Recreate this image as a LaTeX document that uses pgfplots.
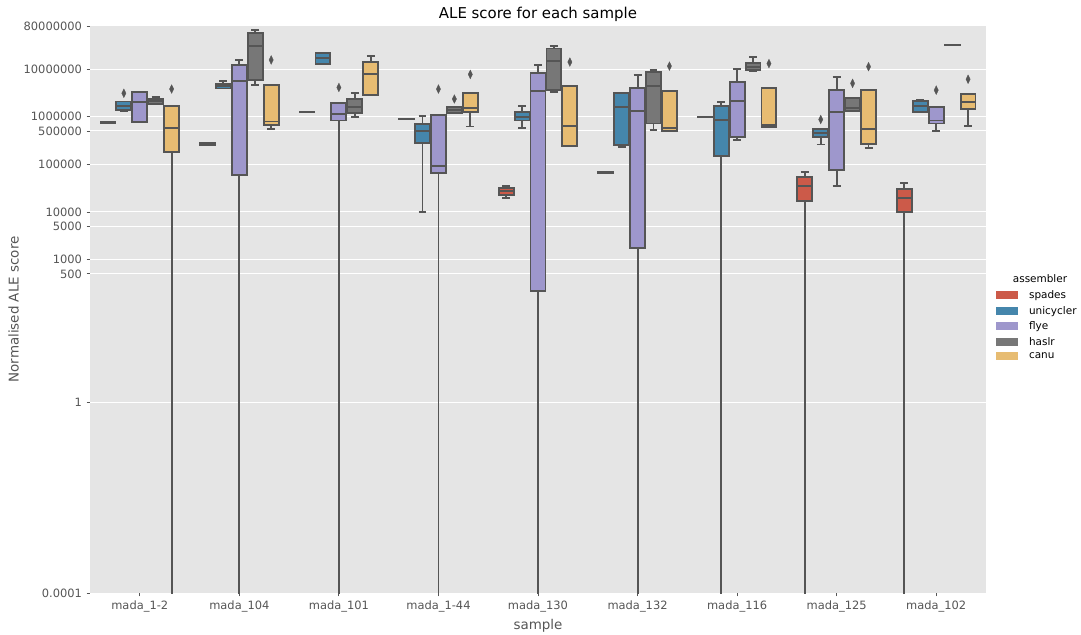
\documentclass[border=0pt]{standalone}
\usepackage{pgfplots}
\pgfplotsset{compat=1.18}
\usepackage{fontspec}
\setmainfont{DejaVu Sans}
\definecolor{cspades}{RGB}{204,90,73}
\definecolor{cuni}{RGB}{69,134,172}
\definecolor{cflye}{RGB}{158,151,204}
\definecolor{chaslr}{RGB}{119,119,119}
\definecolor{ccanu}{RGB}{231,188,114}
\definecolor{edge}{RGB}{85,85,85}
\definecolor{bg}{RGB}{229,229,229}
\definecolor{lab}{RGB}{85,85,85}
\pgfplotsset{
  wsk/.style={forget plot, draw=edge, solid, line width=1.9pt, mark=none},
  bxs/.style={forget plot, draw=edge, solid, line width=1.9pt, mark=none},
  outs/.style={forget plot, only marks, mark=diamond*, mark size=4.4,
    mark options={fill=edge, draw=edge, xscale=0.65, solid, line width=0.3pt}},
}
% box: colour, position, lower whisker, lower quartile, median, upper quartile, upper whisker
\newcommand{\bx}[7]{%
  \pgfmathsetmacro{\bxL}{#2-0.075}%
  \pgfmathsetmacro{\bxR}{#2+0.075}%
  \pgfmathsetmacro{\bcL}{#2-0.04}%
  \pgfmathsetmacro{\bcR}{#2+0.04}%
  \edef\bxdo{%
    \noexpand\addplot[wsk] coordinates {(#2,#3) (#2,#4)};
    \noexpand\addplot[wsk] coordinates {(#2,#6) (#2,#7)};
    \noexpand\addplot[wsk] coordinates {(\bcL,#3) (\bcR,#3)};
    \noexpand\addplot[wsk] coordinates {(\bcL,#7) (\bcR,#7)};
    \noexpand\addplot[bxs, fill=#1] coordinates {(\bxL,#4) (\bxR,#4) (\bxR,#6) (\bxL,#6)} --cycle;
    \noexpand\addplot[wsk] coordinates {(\bxL,#5) (\bxR,#5)};
  }\bxdo}
% outlier: position, value
\newcommand{\outl}[2]{\addplot[outs] coordinates {(#1,#2)};}
\begin{document}
\begin{tikzpicture}
\useasboundingbox (0bp,0bp) rectangle (1081bp,635bp);
\begin{axis}[
  at={(90bp,42bp)}, anchor=south west,
  scale only axis, width=896bp, height=567bp,
  ymode=log, ymin=1e-4, ymax=8e7,
  xmin=-0.5, xmax=8.5,
  xtick={0,1,2,3,4,5,6,7,8},
  xticklabels={mada\_1-2, mada\_104, mada\_101, mada\_1-44, mada\_130, mada\_132, mada\_116, mada\_125, mada\_102},
  ytick={1e-4,1,500,1000,5000,1e4,1e5,5e5,1e6,1e7,8e7},
  yticklabels={0.0001,1,500,1000,5000,10000,100000,500000,1000000,10000000,80000000},
  yminorticks=false, xminorticks=false,
  /pgf/number format/assume math mode=true,
  tick pos=left, tick align=outside,
  major tick length=3.5bp,
  tick style={draw=lab, line width=0.8bp},
  ymajorgrids, grid style={white, line width=1bp},
  axis background/.style={fill=bg},
  axis line style={draw=none},
  ticklabel style={font=\fontsize{11.5}{13}\selectfont, text=lab},
  yticklabel style={xshift=-1bp},
  xticklabel style={yshift=-1bp},
  label style={font=\fontsize{13.5}{15}\selectfont, text=lab},
  ylabel style={yshift=-2bp},
  title style={font=\fontsize{15}{17}\selectfont, text=black, yshift=-5bp},
  title={ALE score for each sample},
  xlabel={sample}, ylabel={Normalised ALE score},
  legend style={draw=none, fill=none, at={(1.011,0.537)}, anchor=north west,
    font=\fontsize{10.5}{12}\selectfont, inner sep=0pt, row sep=2.1bp,
    /tikz/every odd column/.append style={column sep=9bp}},
  legend cell align=left,
  legend image code/.code={\fill[#1, draw=none] (0bp,-4bp) rectangle (22bp,4bp);},
]
\addlegendimage{fill=cspades}\addlegendentry{spades}
\addlegendimage{fill=cuni}\addlegendentry{unicycler}
\addlegendimage{fill=cflye}\addlegendentry{flye}
\addlegendimage{fill=chaslr}\addlegendentry{haslr}
\addlegendimage{fill=ccanu}\addlegendentry{canu}
% mada_1-2
\bx{cspades}{-0.32}{7.4e5}{7.4e5}{7.6e5}{7.8e5}{7.8e5}
\bx{cuni}{-0.16}{1.29e6}{1.38e6}{1.7e6}{2.08e6}{2.08e6}
\bx{cflye}{0}{7.6e5}{7.6e5}{2.05e6}{3.3e6}{3.3e6}
\bx{chaslr}{0.16}{1.83e6}{1.83e6}{2.1e6}{2.34e6}{2.57e6}
\bx{ccanu}{0.32}{1e-5}{1.8e5}{5.8e5}{1.7e6}{1.7e6}
\outl{-0.16}{3.1e6}
\outl{0.32}{3.8e6}
% mada_104
\bx{cspades}{0.68}{2.5e5}{2.5e5}{2.6e5}{2.8e5}{2.8e5}
\bx{cuni}{0.84}{3.9e6}{3.9e6}{4.4e6}{4.9e6}{5.5e6}
\bx{cflye}{1}{1e-5}{5.9e4}{5.6e6}{1.23e7}{1.55e7}
\bx{chaslr}{1.16}{4.6e6}{6.0e6}{3.0e7}{5.6e7}{6.6e7}
\bx{ccanu}{1.32}{5.5e5}{6.8e5}{7.9e5}{4.6e6}{4.6e6}
\outl{1.32}{1.55e7}
% mada_101
\bx{cspades}{1.68}{1.25e6}{1.25e6}{1.26e6}{1.27e6}{1.27e6}
\bx{cuni}{1.84}{1.25e7}{1.25e7}{1.7e7}{2.2e7}{2.2e7}
\bx{cflye}{2}{1e-5}{8.3e5}{1.15e6}{1.9e6}{1.9e6}
\bx{chaslr}{2.16}{1.0e6}{1.2e6}{1.6e6}{2.35e6}{3.2e6}
\bx{ccanu}{2.32}{2.9e6}{2.9e6}{7.7e6}{1.4e7}{1.9e7}
\outl{2}{4.1e6}
% mada_1-44
\bx{cspades}{2.68}{8.7e5}{8.7e5}{8.8e5}{8.9e5}{8.9e5}
\bx{cuni}{2.84}{1.0e4}{2.8e5}{5.1e5}{7.0e5}{1.03e6}
\bx{cflye}{3}{1e-5}{6.6e4}{9.1e4}{1.07e6}{1.07e6}
\bx{chaslr}{3.16}{1.2e6}{1.2e6}{1.38e6}{1.58e6}{1.58e6}
\bx{ccanu}{3.32}{6.2e5}{1.26e6}{1.5e6}{3.1e6}{3.1e6}
\outl{3}{3.8e6}
\outl{3.16}{2.35e6}
\outl{3.32}{7.7e6}
% mada_130
\bx{cspades}{3.68}{2.0e4}{2.3e4}{2.7e4}{3.2e4}{3.5e4}
\bx{cuni}{3.84}{5.8e5}{8.3e5}{1.0e6}{1.26e6}{1.7e6}
\bx{cflye}{4}{1e-5}{220}{3.4e6}{8.2e6}{1.2e7}
\bx{chaslr}{4.16}{3.3e6}{3.6e6}{1.47e7}{2.7e7}{3.0e7}
\bx{ccanu}{4.32}{2.4e5}{2.4e5}{6.5e5}{4.4e6}{4.4e6}
\outl{4.32}{1.4e7}
% mada_132
\bx{cspades}{4.68}{6.6e4}{6.6e4}{6.7e4}{6.8e4}{6.8e4}
\bx{cuni}{4.84}{2.3e5}{2.5e5}{1.6e6}{3.1e6}{3.1e6}
\bx{cflye}{5}{1e-5}{1750}{1.33e6}{4.0e6}{7.5e6}
\bx{chaslr}{5.16}{5.3e5}{7.2e5}{4.4e6}{8.7e6}{9.6e6}
\bx{ccanu}{5.32}{4.9e5}{4.9e5}{5.8e5}{3.4e6}{3.4e6}
\outl{5.32}{1.15e7}
% mada_116
\bx{cspades}{5.68}{9.6e5}{9.6e5}{9.7e5}{9.8e5}{9.8e5}
\bx{cuni}{5.84}{1e-5}{1.5e5}{8.6e5}{1.67e6}{2.05e6}
\bx{cflye}{6}{3.2e5}{3.8e5}{2.15e6}{5.4e6}{1.0e7}
\bx{chaslr}{6.16}{9.2e6}{9.4e6}{1.1e7}{1.36e7}{1.8e7}
\bx{ccanu}{6.32}{6.0e5}{6.0e5}{6.7e5}{4.0e6}{4.0e6}
\outl{6.32}{1.3e7}
% mada_125
\bx{cspades}{6.68}{1e-5}{1.7e4}{3.5e4}{5.4e4}{6.9e4}
\bx{cuni}{6.84}{2.6e5}{3.8e5}{4.6e5}{5.5e5}{5.5e5}
\bx{cflye}{7}{3.5e4}{7.7e4}{1.23e6}{3.6e6}{6.9e6}
\bx{chaslr}{7.16}{1.33e6}{1.33e6}{1.5e6}{2.45e6}{2.45e6}
\bx{ccanu}{7.32}{2.2e5}{2.7e5}{5.5e5}{3.6e6}{3.6e6}
\outl{6.84}{8.7e5}
\outl{7.16}{5.0e6}
\outl{7.32}{1.12e7}
% mada_102
\bx{cspades}{7.68}{1e-5}{1.0e4}{2.0e4}{3.0e4}{4.0e4}
\bx{cuni}{7.84}{1.23e6}{1.23e6}{1.7e6}{2.15e6}{2.2e6}
\bx{cflye}{8}{4.9e5}{7.2e5}{8.3e5}{1.58e6}{1.58e6}
\bx{chaslr}{8.16}{3.18e7}{3.18e7}{3.2e7}{3.22e7}{3.22e7}
\bx{ccanu}{8.32}{6.5e5}{1.45e6}{2.0e6}{2.95e6}{2.95e6}
\outl{8}{3.6e6}
\outl{8.32}{6.1e6}
\end{axis}
\node[font=\fontsize{10.5}{12}\selectfont, text=black] at (1040bp,356bp) {assembler};
\end{tikzpicture}
\end{document}
